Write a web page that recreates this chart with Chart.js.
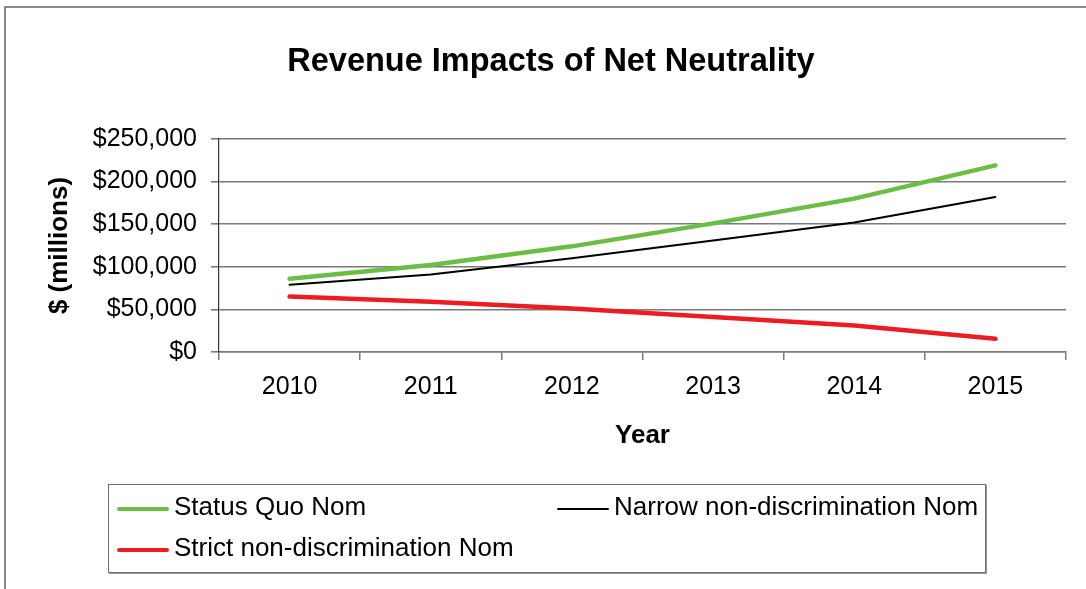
<!DOCTYPE html>
<html>
<head>
<meta charset="utf-8">
<script src="https://cdn.jsdelivr.net/npm/chart.js@4"></script>
<style>
    body { margin: 0; background: #fff; overflow: hidden; }
    #wrap { position: relative; width: 1086px; height: 589px; }
    #frame { position: absolute; left: 4px; top: 6px; width: 1200px; height: 700px;
             border-left: 2px solid #8a8a82; border-top: 2px solid #8a8a82; }
    #chart { position: absolute; left: 0; top: 0; }
    #legend { position: absolute; left: 108px; top: 484px; width: 876px; height: 87px;
              border: 1px solid #6e6e6e; box-shadow: 1px 1px 0 #9a9a9a;
              font-family: "Liberation Sans", Arial, sans-serif; font-size: 26px; color: #000; }
    .item { position: absolute; height: 30px; line-height: 30px; white-space: nowrap; }
    .swatch { position: absolute; left: 0; width: 52px; border-radius: 2px; }
    .label { position: absolute; left: 57px; top: 0; }
</style>
</head>
<body>
<div id="wrap">
    <div id="frame"></div>
    <canvas id="chart" width="1086" height="589"></canvas>
    <div id="legend"></div>
</div>
<script>
// 数据
const years = ['2010', '2011', '2012', '2013', '2014', '2015'];
const statusQuo = [86000, 102000, 124000, 151000, 180000, 219000];
const narrowNonDiscrimination = [79000, 91000, 110000, 131000, 152000, 182000];
const strictNonDiscrimination = [65000, 59000, 51000, 41000, 31000, 15500];
const yTicks = [0, 50000, 100000, 150000, 200000, 250000];

const FONT = '"Liberation Sans", Arial, sans-serif';

// 标题整体偏右一些，和原图对齐
const titleShift = {
    id: 'titleShift',
    afterLayout(chart) {
        if (chart.titleBlock) {
            chart.titleBlock.left = 36;
            chart.titleBlock.right = 1066;
        }
    }
};

const ctx = document.getElementById('chart').getContext('2d');
const chart = new Chart(ctx, {
    type: 'line',
    data: {
        labels: years,
        datasets: [
            { label: 'Status Quo Nom', data: statusQuo, borderColor: '#6cbd45', borderWidth: 4.5 },
            { label: 'Narrow non-discrimination Nom', data: narrowNonDiscrimination, borderColor: '#000000', borderWidth: 2 },
            { label: 'Strict non-discrimination Nom', data: strictNonDiscrimination, borderColor: '#ed1c24', borderWidth: 4.5 }
        ]
    },
    plugins: [titleShift],
    options: {
        responsive: false,
        animation: false,
        layout: { padding: { top: 0, left: 0, right: 20, bottom: 138 } },
        elements: {
            point: { radius: 0, hoverRadius: 0 },
            line: { tension: 0, borderCapStyle: 'round', borderJoinStyle: 'round', fill: false }
        },
        plugins: {
            legend: { display: false },
            tooltip: { enabled: false },
            title: {
                display: true,
                text: 'Revenue Impacts of Net Neutrality',
                color: '#000',
                font: { family: FONT, size: 32.5, weight: 'bold', lineHeight: 1.2 },
                padding: { top: 43, bottom: 57 }
            }
        },
        scales: {
            x: {
                offset: true,
                afterFit: scale => { scale.height = 99; },
                grid: { offset: true, drawOnChartArea: false, drawTicks: true, tickLength: 8, color: '#7a7a7a', lineWidth: 1.5 },
                border: { display: true, color: '#7a7a7a', width: 1.5 },
                ticks: { color: '#000', padding: 12, maxRotation: 0, font: { family: FONT, size: 25 } },
                title: {
                    display: true, text: 'Year', color: '#000',
                    font: { family: FONT, size: 26, weight: 'bold', lineHeight: 1.2 },
                    padding: { top: 0, bottom: 0 }
                }
            },
            y: {
                min: 0,
                max: 250000,
                afterFit: scale => { scale.width = 219; },
                afterBuildTicks: scale => { scale.ticks = yTicks.map(v => ({ value: v })); },
                grid: { color: '#7a7a7a', lineWidth: 1.6, drawTicks: true, tickLength: 8 },
                border: { display: true, color: '#333', width: 1.2 },
                ticks: {
                    color: '#000', padding: 14,
                    font: { family: FONT, size: 25 },
                    callback: v => '$' + Number(v).toLocaleString('en-US')
                },
                title: {
                    display: true, text: '$ (millions)', color: '#000',
                    font: { family: FONT, size: 26, weight: 'bold', lineHeight: 1.2 },
                    padding: { top: 44, bottom: 0 }
                }
            }
        }
    }
});

// 自定义图例（两行布局，带边框）
function renderLegend(chart) {
    const box = document.getElementById('legend');
    box.innerHTML = '';
    const spots = [
        { left: 8, top: 6 },
        { left: 448, top: 6 },
        { left: 8, top: 47 }
    ];
    chart.data.datasets.forEach((ds, i) => {
        const item = document.createElement('div');
        item.className = 'item';
        item.style.left = spots[i].left + 'px';
        item.style.top = spots[i].top + 'px';
        const sw = document.createElement('div');
        sw.className = 'swatch';
        sw.style.background = ds.borderColor;
        sw.style.height = ds.borderWidth + 'px';
        sw.style.top = (18 - ds.borderWidth / 2) + 'px';
        const lab = document.createElement('span');
        lab.className = 'label';
        lab.textContent = ds.label;
        item.appendChild(sw);
        item.appendChild(lab);
        box.appendChild(item);
    });
}
renderLegend(chart);
</script>
</body>
</html>
